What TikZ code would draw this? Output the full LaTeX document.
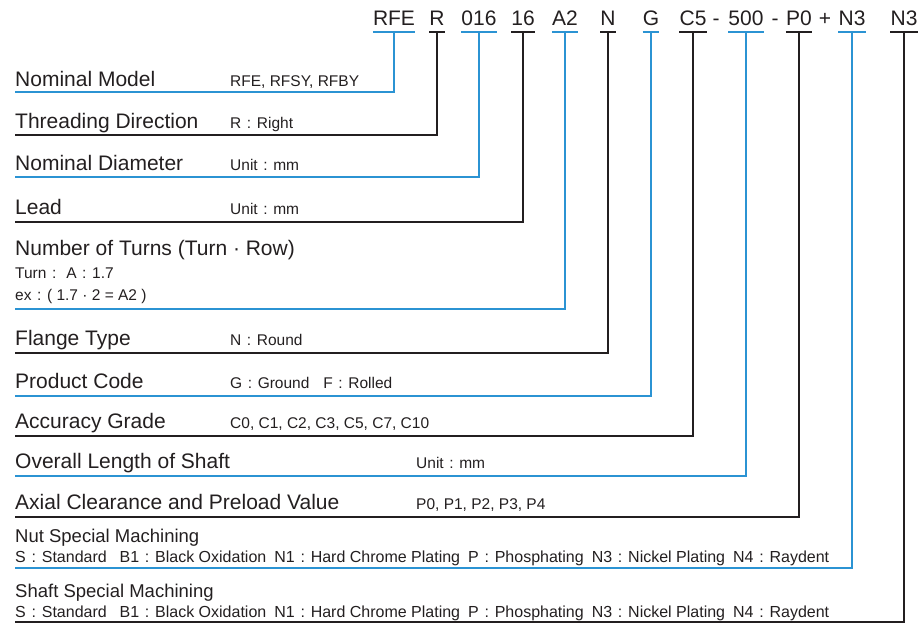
\documentclass[tikz,border=0pt]{standalone}
\usepackage{fontspec}
\setmainfont{Liberation Sans}
\usetikzlibrary{positioning}
\definecolor{rfBlue}{HTML}{2B93D3}
\definecolor{rfInk}{HTML}{231F20}
\newcommand{\fcol}{\makebox[1em]{:}}
\newcommand{\finishopts}{S\fcol Standard\hspace{0.8em}B1\fcol Black Oxidation\hspace{0.5em}N1\fcol Hard Chrome Plating\hspace{0.5em}P\fcol Phosphating\hspace{0.5em}N3\fcol Nickel Plating\hspace{0.5em}N4\fcol Raydent}

\tikzset{
  code/.style={font=\fontsize{21}{24}\selectfont, text=rfInk, anchor=base, inner xsep=0pt, inner ysep=7pt, text depth=0pt},
  joiner/.style={font=\fontsize{21}{24}\selectfont, text=rfInk, anchor=base, inner sep=0pt},
  title/.style={font=\fontsize{21}{24}\selectfont, text=rfInk, anchor=base west, inner sep=0pt},
  subtitle/.style={font=\fontsize{18.5}{22}\selectfont, text=rfInk, anchor=base west, inner sep=0pt},
  note/.style={font=\fontsize{15.5}{18}\selectfont, text=rfInk, anchor=base west, inner sep=0pt},
  small/.style={font=\fontsize{15.5}{18}\selectfont, text=rfInk, anchor=base west, inner sep=0pt},
  opts/.style={font=\fontsize{16}{19}\selectfont, text=rfInk, anchor=base west, inner sep=0pt},
  wireB/.style={draw=rfBlue, line width=2.4pt},
  wireK/.style={draw=rfInk, line width=2.4pt},
}

\begin{document}
\begin{tikzpicture}[x=1pt, y=-1pt]
  \useasboundingbox (0,0) rectangle (920,625);

  % part number
  \node[code] (cRFE) at (394,25) {RFE};
  \node[code] (cR) at (437,25) {R};
  \node[code] (cDia) at (479,25) {016};
  \node[code] (cLead) at (523,25) {16};
  \node[code] (cTurn) at (565,25) {A2};
  \node[code] (cFlange) at (608,25) {N};
  \node[code] (cProd) at (651,25) {G};
  \node[code] (cAcc) at (693,25) {C5};
  \node[joiner] (dashA) at (716,25) {-};
  \node[code] (cLen) at (746,25) {500};
  \node[joiner] (dashB) at (775,25) {-};
  \node[code] (cPre) at (799,25) {P0};
  \node[joiner] (plus) at (825,25) {+};
  \node[code] (cNut) at (852,25) {N3};
  \node[code] (cShaft) at (904,25) {N3};

  % row ends
  \coordinate (eRFE) at (15,92);
  \coordinate (eR) at (15,135);
  \coordinate (eDia) at (15,177);
  \coordinate (eLead) at (15,222);
  \coordinate (eTurn) at (15,309);
  \coordinate (eFlange) at (15,353);
  \coordinate (eProd) at (15,396);
  \coordinate (eAcc) at (15,436);
  \coordinate (eLen) at (15,476);
  \coordinate (ePre) at (15,517);
  \coordinate (eNut) at (15,568);
  \coordinate (eShaft) at (15,622);

  % labels
  \node[title] (tModel) at (15,86) {Nominal Model};
  \node[note] (nModel) at (230,86) {RFE, RFSY, RFBY};
  \node[title] (tThread) at (15,128) {Threading Direction};
  \node[note] (nThread) at (230,128) {R\fcol Right};
  \node[title] (tDia) at (15,170) {Nominal Diameter};
  \node[note] (nDia) at (230,170) {Unit\fcol mm};
  \node[title] (tLead) at (15,214) {Lead};
  \node[note] (nLead) at (230,214) {Unit\fcol mm};
  \node[title] (tTurn) at (15,255) {Number of Turns (Turn · Row)};
  \node[small] (nTurnA) at (15,278) {Turn\fcol\ A\fcol 1.7};
  \node[small] (nTurnB) at (15,300) {ex\fcol( 1.7 · 2 = A2 )};
  \node[title] (tFlange) at (15,345) {Flange Type};
  \node[note] (nFlange) at (230,345) {N\fcol Round};
  \node[title] (tProd) at (15,388) {Product Code};
  \node[note] (nProd) at (230,388) {G\fcol Ground\hspace{0.9em}F\fcol Rolled};
  \node[title] (tAcc) at (15,428) {Accuracy Grade};
  \node[note] (nAcc) at (230,428) {C0, C1, C2, C3, C5, C7, C10};
  \node[title] (tLen) at (15,468) {Overall Length of Shaft};
  \node[note] (nLen) at (416,468) {Unit\fcol mm};
  \node[title] (tPre) at (15,509) {Axial Clearance and Preload Value};
  \node[note] (nPre) at (416,509) {P0, P1, P2, P3, P4};
  \node[subtitle] (tNut) at (15,542) {Nut Special Machining};
  \node[opts] (nNut) at (15,562) {\finishopts};
  \node[subtitle] (tShaft) at (15,597) {Shaft Special Machining};
  \node[opts] (nShaft) at (15,617) {\finishopts};

  % connectors
  \foreach \c/\w in {RFE/wireB, R/wireK, Dia/wireB, Lead/wireK, Turn/wireB, Flange/wireK,
                     Prod/wireB, Acc/wireK, Len/wireB, Pre/wireK, Nut/wireB, Shaft/wireK} {
    \draw[\w] (c\c.south west) -- (c\c.south east);
    \draw[\w] (c\c.south) |- (e\c);
  }
\end{tikzpicture}
\end{document}
